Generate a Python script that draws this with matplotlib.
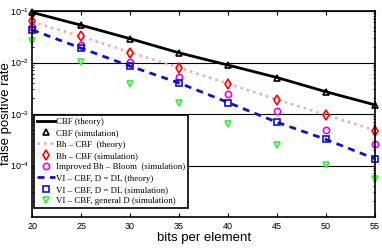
import numpy as np
import matplotlib
matplotlib.use("Agg")
import matplotlib.pyplot as plt

plt.rcParams['font.family'] = ['Liberation Sans', 'DejaVu Sans']
plt.rcParams['mathtext.fontset'] = 'custom'
plt.rcParams['mathtext.rm'] = 'Liberation Sans'

# bits per element
bits = [20, 25, 30, 35, 40, 45, 50, 55]

# false positive rates
cbf_theory = [0.094, 0.053, 0.029, 0.0154, 0.0089, 0.0051, 0.0027, 0.0015]
cbf_sim = [0.094, 0.053, 0.029, 0.0154, 0.0089, 0.0051, 0.0027, 0.0015]
bh_theory = [0.062, 0.032, 0.0158, 0.0079, 0.0039, 0.0019, 0.00096, 0.00048]
bh_sim = [0.064, 0.032, 0.0154, 0.0077, 0.0039, 0.0019, 0.00096, 0.00047]
improved_sim = [0.048, 0.022, 0.0102, 0.0052, 0.0024, 0.00112, 0.0005, 0.00026]
vi_theory = [0.043, 0.019, 0.0085, 0.0040, 0.00167, 0.00069, 0.00032, 0.000135]
vi_sim = [0.043, 0.019, 0.0085, 0.0040, 0.00167, 0.00069, 0.00032, 0.000135]
vi_general_sim = [0.026, 0.0103, 0.0039, 0.0016, 0.00064, 0.00025, 0.000104, 0.000054]

fig = plt.figure(figsize=(3.82, 2.5), dpi=100)
ax = fig.add_axes([0.084, 0.132, 0.898, 0.824])

ax.plot(bits, cbf_theory, '-', color='black', lw=2, label='CBF (theory)')
ax.plot(bits, cbf_sim, '^', color='black', mfc='none', mew=1.2, ms=4.5,
        clip_on=False, label='CBF (simulation)')
ax.plot(bits, bh_theory, ':', color='#f5a3b2', lw=1.8, label='Bh \u2013 CBF  (theory)')
ax.plot(bits, bh_sim, 'd', color='red', mfc='none', mew=1.2, ms=5,
        clip_on=False, label='Bh \u2013 CBF (simulation)')
ax.plot(bits, improved_sim, 'o', color='#ee00ee', mfc='none', mew=1.2, ms=4.5,
        clip_on=False, label='Improved Bh \u2013 Bloom  (simulation)')
ax.plot(bits, vi_theory, '--', color='#1010cc', lw=2, dashes=(2.5, 2),
        label='VI \u2013 CBF, D = DL (theory)')
ax.plot(bits, vi_sim, 's', color='#1010cc', mfc='none', mew=1.2, ms=4,
        clip_on=False, label='VI \u2013 CBF, D = DL (simulation)')
ax.plot(bits, vi_general_sim, 'v', color='#33ee33', mfc='none', mew=1.2, ms=5,
        clip_on=False, label='VI \u2013 CBF, general D (simulation)')

ax.set_yscale('log')
ax.set_xlim(20, 55)
ax.set_ylim(1e-5, 1e-1)
ax.set_xticks(bits)
ax.set_yticks([1e-4, 1e-3, 1e-2, 1e-1])
ax.yaxis.grid(True, which='major', color='black', lw=0.8)
ax.tick_params(which='both', direction='in', top=True, right=True, labelsize=6.5)
ax.tick_params(axis='y', pad=2)
ax.tick_params(which='major', length=3)
ax.tick_params(which='minor', length=1.5)
for s in ax.spines.values():
    s.set_linewidth(1.2)

ax.set_xlabel('bits per element', fontsize=9.5, labelpad=1)
ax.set_ylabel('false positive rate', fontsize=9.5)
ax.yaxis.set_label_coords(-0.06, 0.5)

leg = ax.legend(loc='upper left', bbox_to_anchor=(0.006, 0.495), borderaxespad=0,
                prop={'family': 'Liberation Serif', 'size': 6.4},
                fancybox=False, framealpha=1, edgecolor='black',
                handlelength=2.0, handletextpad=0.2, labelspacing=0.35,
                borderpad=0.3, numpoints=1)
leg.get_frame().set_linewidth(1.2)

fig.savefig('out.png', dpi=100)
